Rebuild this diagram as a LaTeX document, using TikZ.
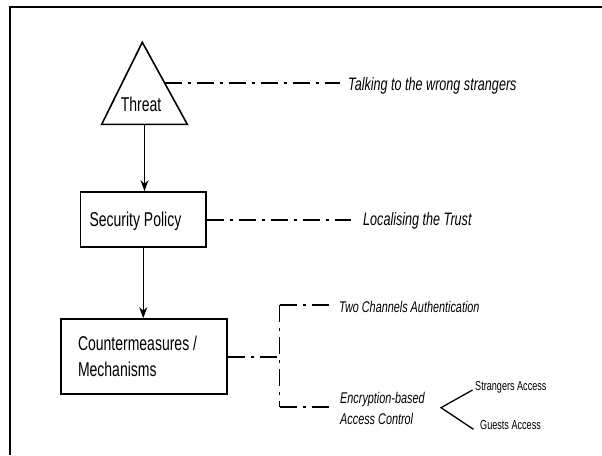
\documentclass[tikz,border=0pt]{standalone}
\usepackage{fontspec}
\setmainfont{Liberation Sans}[FakeStretch=0.7]
\usetikzlibrary{arrows.meta,calc}
\newcommand\normalspace{\spaceskip 0pt\relax\xspaceskip 0pt\relax}

\begin{document}
\begin{tikzpicture}[x=1pt,y=-1pt,
    box/.style={draw,line width=1.6pt,inner xsep=9pt,inner ysep=0pt,align=left},
    strichpunkt/.style={line width=2pt,dash pattern=on 17pt off 6pt on 3pt off 6pt},
    pfeil/.style={line width=1pt,-{Stealth[length=11pt,width=8pt,inset=3.5pt]}},
    gross/.style={font=\fontsize{20}{26}\selectfont},
    notiz/.style={font=\fontsize{18}{20}\selectfont\itshape,inner sep=0pt},
    klein/.style={font=\fontsize{15.5}{20.7}\selectfont\itshape,inner sep=0pt,align=left},
    mini/.style={font=\fontsize{13}{14}\selectfont,inner ysep=0pt}
  ]
  \useasboundingbox (0,0) rectangle (602,455);

  % Rahmen
  \draw[line width=2pt] (10,455) -- (10,6.7) -- (602,6.7);

  % Dreieck mit Beschriftung
  \coordinate (spitze) at (142.3,42.3);
  \coordinate (linksunten) at (101.7,124.3);
  \coordinate (rechtsunten) at (187.3,124.3);
  \draw[line width=1.6pt] (spitze) -- (linksunten) -- (rechtsunten) -- cycle;
  \coordinate (basis) at ($(linksunten)!0.5!(rechtsunten)$);
  \coordinate (seite) at ($(spitze)!0.5!(rechtsunten)$);
  \node[gross, anchor=base] (threat) at (141,111.7) {Threat};

  % Kaesten
  \node[box, gross, text width=107.5pt, minimum height=55pt, text depth=0pt] (policy) at (143.25,219.5) {\normalspace Security Policy};
  \node[box, gross, inner xsep=17pt, text width=132pt, minimum height=75pt] (counter) at (144,356.5) {\normalspace Countermeasures /\\Mechanisms};

  % Pfeile
  \draw[pfeil] (basis) -- (basis |- policy.north);
  \draw[pfeil] (policy.south) -- (policy.south |- counter.north);

  % Anmerkungen rechts
  \node[notiz, anchor=base west] (talking) at (348,90) {Talking to the wrong strangers};
  \draw[strichpunkt, shorten >=8pt] (seite) -- (seite -| talking.west);
  \node[notiz, anchor=base west] (trust) at (363,225) {Localising the Trust};
  \draw[strichpunkt, shorten >=12pt] (policy.east) -- (policy.east -| trust.west);

  % Verzweigung der Massnahmen
  \coordinate (gabel) at (279.5,356.5);
  \coordinate (gabeloben) at (279.5,305);
  \coordinate (gabelunten) at (279.5,406.7);
  \node[klein, anchor=base west] (twoch) at (339,312.3) {Two Channels Authentication};
  \node[klein, anchor=west] (encr) at (340,408.4) {Encryption-based\\\normalspace Access Control};
  \draw[strichpunkt] (counter.east) -- (gabel);
  \draw[strichpunkt, line width=1.2pt] (gabeloben) -- (gabelunten);
  \draw[strichpunkt, shorten >=7pt] (gabeloben) -- (gabeloben -| twoch.west);
  \draw[strichpunkt, shorten >=8pt] (gabelunten) -- (gabelunten -| encr.west);

  % Zugriffsarten
  \coordinate (zweig) at (441,407.7);
  \node[mini, anchor=base west, inner xsep=2.5pt] (strangers) at (472.5,390) {Strangers Access};
  \node[mini, anchor=base west, inner xsep=6.5pt] (guests) at (473.5,429.3) {Guests Access};
  \draw[line width=1.3pt] (strangers.base west) -- (zweig) -- (guests.base west);
\end{tikzpicture}
\end{document}
